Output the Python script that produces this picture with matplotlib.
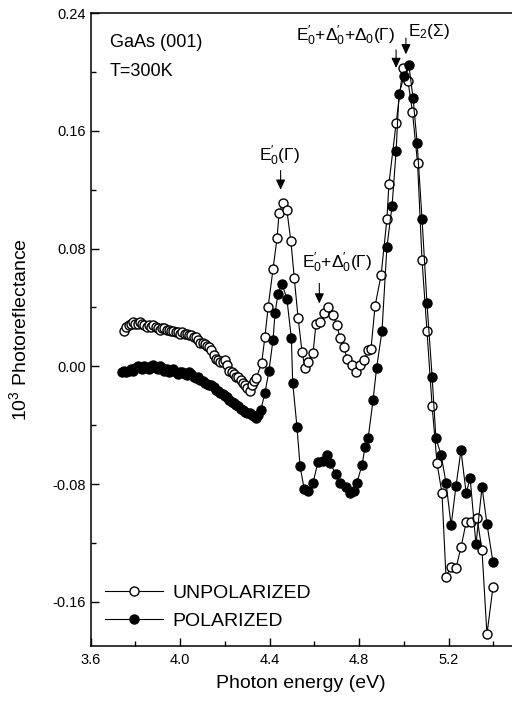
import matplotlib
matplotlib.use('Agg')
import matplotlib.pyplot as plt
from matplotlib.ticker import MultipleLocator, FormatStrFormatter

plt.rcParams['font.family'] = ['Liberation Sans', 'DejaVu Sans']
plt.rcParams['mathtext.fontset'] = 'custom'
plt.rcParams['mathtext.rm'] = 'Liberation Sans'
plt.rcParams['mathtext.it'] = 'Liberation Sans:italic'
plt.rcParams['mathtext.bf'] = 'Liberation Sans:bold'
plt.rcParams['axes.unicode_minus'] = False

# photon energy (eV) and photoreflectance (x10^3)
unpol_e = [3.75, 3.76, 3.77, 3.78, 3.79, 3.80, 3.81, 3.82, 3.83, 3.84,
           3.85, 3.86, 3.87, 3.88, 3.89, 3.90, 3.91, 3.92, 3.93, 3.94,
           3.95, 3.96, 3.97, 3.98, 3.99, 4.00, 4.01, 4.02, 4.03, 4.04,
           4.05, 4.06, 4.07, 4.08, 4.09, 4.10, 4.11, 4.12, 4.13, 4.14,
           4.15, 4.16, 4.17, 4.18, 4.19, 4.20, 4.21, 4.22, 4.23, 4.24,
           4.25, 4.26, 4.27, 4.28, 4.29, 4.30, 4.31, 4.32, 4.33, 4.34,
           4.364, 4.379, 4.393, 4.415, 4.433, 4.442, 4.460, 4.477, 4.495, 4.510,
           4.527, 4.545, 4.558, 4.572, 4.594, 4.607, 4.625, 4.643, 4.661, 4.683,
           4.701, 4.714, 4.732, 4.746, 4.768, 4.786, 4.804, 4.822, 4.840, 4.853,
           4.871, 4.898, 4.924, 4.933, 4.965, 4.996, 5.018, 5.038, 5.061, 5.081,
           5.103, 5.126, 5.148, 5.170, 5.188, 5.211, 5.233, 5.255, 5.278, 5.300,
           5.327, 5.349, 5.371, 5.398]
unpol_r = [0.024, 0.027, 0.028, 0.029, 0.030, 0.029, 0.029, 0.030, 0.029, 0.028,
           0.027, 0.028, 0.027, 0.028, 0.027, 0.026, 0.025, 0.026, 0.026, 0.025,
           0.025, 0.024, 0.024, 0.023, 0.023, 0.022, 0.023, 0.022, 0.022, 0.021,
           0.021, 0.020, 0.020, 0.018, 0.016, 0.016, 0.015, 0.014, 0.013, 0.011,
           0.008, 0.005, 0.004, 0.003, 0.003, 0.004, 0.001, -0.003, -0.004, -0.005,
           -0.007, -0.007, -0.009, -0.011, -0.013, -0.015, -0.017, -0.013, -0.010, -0.008,
           0.002, 0.020, 0.040, 0.066, 0.087, 0.104, 0.111, 0.106, 0.085, 0.060,
           0.033, 0.0095, -0.001, 0.003, 0.009, 0.029, 0.030, 0.036, 0.040, 0.035,
           0.028, 0.019, 0.013, 0.005, 0.001, -0.004, 0.001, 0.004, 0.011, 0.012,
           0.041, 0.062, 0.100, 0.124, 0.165, 0.203, 0.194, 0.173, 0.138, 0.072,
           0.024, -0.027, -0.066, -0.086, -0.143, -0.136, -0.137, -0.123, -0.106, -0.106,
           -0.103, -0.125, -0.182, -0.150]

pol_e = [3.74, 3.75, 3.76, 3.77, 3.78, 3.79, 3.80, 3.81, 3.82, 3.83,
         3.84, 3.85, 3.86, 3.87, 3.88, 3.89, 3.90, 3.91, 3.92, 3.93,
         3.94, 3.95, 3.96, 3.97, 3.98, 3.99, 4.00, 4.01, 4.02, 4.03,
         4.04, 4.05, 4.06, 4.07, 4.08, 4.09, 4.10, 4.11, 4.12, 4.13,
         4.14, 4.15, 4.16, 4.17, 4.18, 4.19, 4.20, 4.21, 4.22, 4.23,
         4.24, 4.25, 4.26, 4.27, 4.28, 4.29, 4.30, 4.31, 4.32, 4.33,
         4.34, 4.35, 4.36, 4.379, 4.397, 4.415, 4.424, 4.437, 4.455, 4.477,
         4.497, 4.503, 4.522, 4.536, 4.554, 4.572, 4.594, 4.616, 4.638, 4.656,
         4.670, 4.696, 4.714, 4.741, 4.759, 4.777, 4.790, 4.813, 4.826, 4.840,
         4.862, 4.878, 4.902, 4.924, 4.947, 4.965, 4.978, 5.000, 5.022, 5.041,
         5.059, 5.081, 5.103, 5.126, 5.143, 5.166, 5.188, 5.211, 5.233, 5.255,
         5.278, 5.296, 5.322, 5.349, 5.371, 5.398]
pol_r = [-0.004, -0.003, -0.004, -0.003, -0.002, -0.003, -0.001, 0.000, -0.001, -0.002,
         0.000, -0.001, -0.002, 0.000, 0.001, -0.001, -0.002, 0.000, -0.001, -0.003,
         -0.002, -0.004, -0.003, -0.002, -0.004, -0.005, -0.004, -0.004, -0.005, -0.006,
         -0.004, -0.005, -0.007, -0.008, -0.007, -0.009, -0.010, -0.011, -0.012, -0.013,
         -0.013, -0.014, -0.016, -0.017, -0.018, -0.019, -0.020, -0.021, -0.023, -0.024,
         -0.025, -0.026, -0.027, -0.029, -0.030, -0.031, -0.032, -0.032, -0.033, -0.034,
         -0.035, -0.033, -0.030, -0.018, -0.003, 0.018, 0.036, 0.049, 0.056, 0.046,
         0.019, -0.011, -0.041, -0.068, -0.083, -0.085, -0.079, -0.065, -0.064, -0.060,
         -0.066, -0.073, -0.079, -0.082, -0.086, -0.085, -0.079, -0.067, -0.055, -0.049,
         -0.023, -0.001, 0.024, 0.081, 0.109, 0.146, 0.185, 0.197, 0.205, 0.182,
         0.152, 0.100, 0.043, -0.007, -0.049, -0.060, -0.079, -0.108, -0.081, -0.057,
         -0.086, -0.076, -0.121, -0.082, -0.107, -0.133]

fig = plt.figure(figsize=(5.12, 7.04), dpi=100)
ax = fig.add_axes([0.177, 0.0824, 0.823, 0.899])

ax.plot(unpol_e, unpol_r, '-o', color='black', lw=0.8, ms=6.5, mfc='white',
        mec='black', mew=1.0, label='UNPOLARIZED')
ax.plot(pol_e, pol_r, '-o', color='black', lw=0.8, ms=6.5, mfc='black',
        mec='black', mew=1.0, label='POLARIZED')

ax.set_xlim(3.6, 5.483)
ax.set_ylim(-0.19, 0.24)
ax.xaxis.set_major_locator(MultipleLocator(0.4))
ax.xaxis.set_minor_locator(MultipleLocator(0.2))
ax.yaxis.set_major_locator(MultipleLocator(0.08))
ax.yaxis.set_minor_locator(MultipleLocator(0.04))
ax.xaxis.set_major_formatter(FormatStrFormatter('%.1f'))
ax.yaxis.set_major_formatter(FormatStrFormatter('%.2f'))
ax.tick_params(which='both', direction='in', labelsize=10.5, width=1.0)
ax.tick_params(which='major', length=6)
ax.tick_params(which='minor', length=3.5)
ax.tick_params(axis='x', pad=5)
for s in ['left', 'bottom', 'top']:
    ax.spines[s].set_linewidth(1.1)
ax.spines['right'].set_visible(False)

ax.set_xlabel('Photon energy (eV)', fontsize=14, labelpad=6)
ax.set_ylabel('10$^{3}$ Photoreflectance', fontsize=14, labelpad=16)

ax.text(3.686, 0.2168, 'GaAs (001)', fontsize=13, ha='left', va='baseline')
ax.text(3.686, 0.197, 'T=300K', fontsize=13, ha='left', va='baseline')

arrow = dict(arrowstyle='-|>,head_length=0.6,head_width=0.28', color='black',
             lw=0.8, shrinkA=0, shrinkB=0)
ax.text(4.446, 0.1397, r"$\mathrm{E^{\prime}_{0}(\Gamma)}$", fontsize=12.5,
        ha='center', va='baseline')
ax.annotate('', xy=(4.449, 0.120), xytext=(4.449, 0.133), arrowprops=arrow)
ax.text(4.543, 0.0671, r"$\mathrm{E^{\prime}_{0}{+}\Delta^{\prime}_{0}(\Gamma)}$",
        fontsize=12.5, ha='left', va='baseline')
ax.annotate('', xy=(4.622, 0.0427), xytext=(4.622, 0.0563), arrowprops=arrow)
ax.text(4.962, 0.221, r"$\mathrm{E^{\prime}_{0}{+}\Delta^{\prime}_{0}{+}\Delta_{0}(\Gamma)}$",
        fontsize=12.5, ha='right', va='baseline')
ax.annotate('', xy=(4.965, 0.2027), xytext=(4.965, 0.215), arrowprops=arrow)
ax.text(5.019, 0.2244, r"$\mathrm{E_{2}(\Sigma)}$", fontsize=12.5,
        ha='left', va='baseline')
ax.annotate('', xy=(5.009, 0.212), xytext=(5.009, 0.223), arrowprops=arrow)

ax.legend(loc='lower left', bbox_to_anchor=(0.034, 0.025), frameon=False,
          fontsize=14, numpoints=1, handlelength=3.0, handletextpad=0.45,
          labelspacing=0.55, borderpad=0, borderaxespad=0)

fig.savefig('out.png', dpi=100)
